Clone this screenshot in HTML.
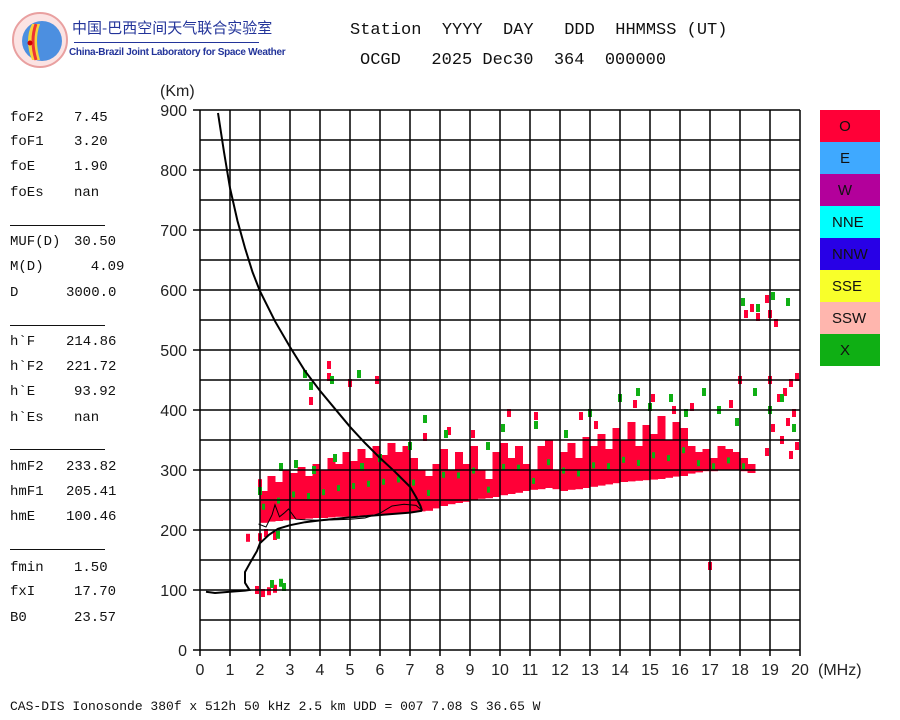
<!DOCTYPE html>
<html><head><meta charset="utf-8">
<style>
html,body{margin:0;padding:0;background:#fff;}
body{width:900px;height:720px;position:relative;overflow:hidden;font-family:"Liberation Mono","Noto Sans CJK SC",monospace;}
.t{position:absolute;white-space:pre;color:#111;}
.pl{position:absolute;left:10px;font-size:14px;font-family:"Liberation Mono",monospace;color:#111;}
.pv{position:absolute;font-size:14px;font-family:"Liberation Mono",monospace;color:#111;}
.hr{position:absolute;left:10px;width:95px;height:1px;background:#111;}
</style></head>
<body>
<div>
<svg style="position:absolute;left:0;top:0" width="270" height="70">
<circle cx="40" cy="40" r="27" fill="#fbe3e3" stroke="#e9a0a0" stroke-width="2"/>
<circle cx="42" cy="41" r="20" fill="#4c8fe0"/>
<path d="M32 24 Q24 40 32 60 L40 60 Q34 40 40 24Z" fill="#f6d23a"/>
<path d="M36 24 Q30 40 36 60" stroke="#e33" stroke-width="3" fill="none"/>
<circle cx="30" cy="43" r="2.5" fill="#c00"/>
</svg>
<div class="t" style="left:72px;top:17px;font-size:15px;color:#23349a;font-family:'Noto Sans CJK SC',sans-serif;">中国-巴西空间天气联合实验室</div>
<div style="position:absolute;left:74px;top:42px;width:185px;height:1px;background:#23349a"></div>
<div class="t" style="left:69px;top:47px;font-size:10px;font-weight:bold;color:#23349a;font-family:'Liberation Sans',sans-serif;letter-spacing:-0.3px">China-Brazil Joint Laboratory for Space Weather</div>
</div>
<div class="t" style="left:350px;top:21px;font-size:17px">Station  YYYY  DAY   DDD  HHMMSS (UT)</div>
<div class="t" style="left:360px;top:51px;font-size:17px">OCGD   2025 Dec30  364  000000</div>
<div id="params"></div>
<div class="t" style="left:10px;top:699px;font-size:13px">CAS-DIS Ionosonde 380f x 512h 50 kHz 2.5 km UDD = 007 7.08 S 36.65 W</div>
<svg id="chart" style="position:absolute;left:0;top:0" width="900" height="720"></svg>
<script>
const params=[["foF2","7.45",119],["foF1","3.20",143],["foE","1.90",168],["foEs","nan",194],["MUF(D)","30.50",243],["M(D)","  4.09",268],["D","3000.0",294],["h`F","214.86",343],["h`F2","221.72",368],["h`E","93.92",393],["h`Es","nan",419],["hmF2","233.82",468],["hmF1","205.41",493],["hmE","100.46",518],["fmin","1.50",569],["fxI","17.70",593],["B0","23.57",619]];
const sepY=[225,325,449,549];
const xTicks=[0,1,2,3,4,5,6,7,8,9,10,11,12,13,14,15,16,17,18,19,20];
const yTicks=[0,100,200,300,400,500,600,700,800,900];
const legendNames=["O","E","W","NNE","NNW","SSE","SSW","X"];
const legendColors=["#ff0037","#3fa9ff","#b3009b","#00ffff","#2800e6","#f8ff2a","#ffb6ae","#0faf14"];
// dense O-mode band
const bandFreq=[2.0,2.25,2.5,2.75,3.0,3.25,3.5,3.75,4.0,4.25,4.5,4.75,5.0,5.25,5.5,5.75,6.0,6.25,6.5,6.75,7.0,7.25,7.5,7.75,8.0,8.25,8.5,8.75,9.0,9.25,9.5,9.75,10.0,10.25,10.5,10.75,11.0,11.25,11.5,11.75,12.0,12.25,12.5,12.75,13.0,13.25,13.5,13.75,14.0,14.25,14.5,14.75,15.0,15.25,15.5,15.75,16.0,16.25,16.5,16.75,17.0,17.25,17.5,17.75,18.0,18.25];
const bandBottom=[212,214,215,216,218,218,219,220,220,221,222,222,223,224,225,226,226,227,228,229,230,231,232,236,240,243,245,247,250,252,253,255,258,260,262,265,267,268,270,268,265,267,268,270,272,274,276,278,280,281,282,283,284,285,287,289,290,294,296,298,298,300,300,300,298,295];
const bandTop=[265,290,280,300,295,305,290,310,300,320,310,330,315,335,320,340,325,345,330,340,320,300,290,310,335,300,330,310,340,300,285,330,345,320,340,310,300,340,350,300,330,345,320,355,340,360,335,370,350,380,340,375,360,390,350,380,370,340,330,335,320,340,335,330,320,310];
// sparse O-mode echoes [freq, km]
const oPoints=[[2.5,190],[1.6,187],[2.0,188],[2.2,195],[1.9,100],[2.1,95],[2.3,98],[2.5,102],[2.0,278],[3.7,415],[4.3,475],[4.3,455],[5.0,445],[5.9,450],[7.5,355],[8.3,365],[9.1,360],[10.3,395],[11.2,390],[12.7,390],[13.2,375],[14.5,410],[15.1,420],[15.8,400],[16.4,405],[17.0,140],[17.7,410],[18.0,450],[18.2,560],[18.4,570],[18.6,555],[18.9,585],[19.0,560],[19.2,545],[19.0,450],[19.3,420],[19.5,430],[19.7,445],[19.9,455],[19.6,380],[19.8,395],[19.1,370],[19.4,350],[19.9,340],[18.9,330],[19.7,325]];
// X-mode echoes [freq, km]
const xPoints=[[2.6,192],[2.4,110],[2.7,112],[2.8,105],[2.0,265],[2.7,305],[3.2,310],[3.8,300],[4.5,320],[5.4,305],[6.0,320],[7.0,340],[7.5,385],[8.2,360],[9.6,340],[10.1,370],[11.2,375],[12.2,360],[13.0,395],[14.0,420],[14.6,430],[15.0,405],[15.7,420],[16.2,395],[16.8,430],[17.3,400],[17.9,380],[18.1,580],[18.6,570],[19.1,590],[19.6,580],[19.0,400],[19.4,420],[19.8,370],[18.5,430],[3.5,460],[3.7,440],[4.4,450],[5.3,460]];
// leading-edge trace (thick)
const traceA=[[0.6,895],[0.8,830],[1.0,770],[1.25,715],[1.5,670],[1.75,630],[2.0,598],[2.5,548],[3.0,505],[3.5,465],[4.0,432],[4.5,402],[5.0,372],[5.5,345],[6.0,320],[6.5,297],[7.0,272],[7.2,255],[7.35,240],[7.4,232]];
const traceB=[[0.2,97],[0.5,95],[1.0,97],[1.5,99],[1.65,100],[1.5,112],[1.5,130],[1.7,148],[1.9,165],[2.0,178],[2.3,192],[2.6,202],[3.0,208],[3.5,213],[4.0,216],[5.0,221],[6.0,225],[7.0,229],[7.4,232]];
const traceC=[[1.95,210],[2.2,205],[2.4,225],[2.5,242],[2.65,222],[2.8,228],[2.95,235],[3.2,218],[3.5,217],[4.0,216],[5.0,218],[5.5,220],[6.0,228],[6.4,240],[6.8,243],[7.2,241],[7.4,233]];

const NS="http://www.w3.org/2000/svg";
const svg=document.getElementById('chart');
const X0=200,X1=800,Y0=650,Y1=110,FMAX=20,HMAX=900;
function xs(f){return X0+(X1-X0)*f/FMAX;}
function ys(h){return Y0-(Y0-Y1)*h/HMAX;}
function mk(tag,attrs){const e=document.createElementNS(NS,tag);for(const k in attrs)e.setAttribute(k,attrs[k]);svg.appendChild(e);return e;}

// params panel
const pp=document.getElementById('params');
params.forEach(p=>{
 const a=document.createElement('div');a.className='pl';a.style.top=(p[2]-9)+'px';a.textContent=p[0];
 
 
 pp.appendChild(a);
 const b=document.createElement('div');b.className='pv';b.style.top=(p[2]-9)+'px';b.style.left=(p[1].startsWith(' ')?74:(p[1].length>5?66:74))+'px';b.style.whiteSpace='pre';b.textContent=p[1];
 
 
 pp.appendChild(b);
});
sepY.forEach(y=>{const d=document.createElement('div');d.className='hr';d.style.top=y+'px';
 
 
 pp.appendChild(d);});

// echo band
const colW=(X1-X0)/FMAX*0.25;
bandFreq.forEach((f,i)=>{
 const r=mk('rect',{x:xs(f),y:ys(bandTop[i]),width:colW+0.5,height:ys(bandBottom[i])-ys(bandTop[i]),fill:'#ff0037'});
 
 
});
// green speckles inside band
bandFreq.forEach((f,i)=>{
 if(i%2===0){const h=(bandTop[i]*0.6+bandBottom[i]*0.4);
 const r=mk('rect',{x:xs(f)+2,y:ys(h),width:3,height:6,fill:'#0faf14'});
 
 }
});
oPoints.forEach(p=>{const r=mk('rect',{x:xs(p[0])-2,y:ys(p[1])-4,width:4,height:8,fill:'#ff0037'});
 
 });
xPoints.forEach(p=>{const r=mk('rect',{x:xs(p[0])-2,y:ys(p[1])-4,width:4,height:8,fill:'#0faf14'});
 
 });

// grid
for(let f=0;f<=FMAX;f++){const l=mk('line',{x1:xs(f),y1:Y1,x2:xs(f),y2:Y0+6,stroke:'#000','stroke-width':1.5});
 
 }
for(let h=0;h<=HMAX;h+=50){const l=mk('line',{x1:(h%100===0?X0-7:X0),y1:ys(h),x2:X1,y2:ys(h),stroke:'#000','stroke-width':1.5});
 
 }

// traces
function poly(arr,w,name){const e=mk('polyline',{points:arr.map(p=>xs(p[0])+','+ys(p[1])).join(' '),fill:'none',stroke:'#000','stroke-width':w});
 
 }
poly(traceA,2,'virtual-height-trace');
poly(traceB,2,'true-height-profile');
poly(traceC,1,'fitted-trace');

// tick labels
xTicks.forEach(t=>{const e=mk('text',{x:xs(t),y:675,'text-anchor':'middle','font-size':16,'font-family':'Liberation Sans, sans-serif',fill:'#222'});e.textContent=t;
 
 });
yTicks.forEach(t=>{const e=mk('text',{x:187,y:ys(t)+6,'text-anchor':'end','font-size':16,'font-family':'Liberation Sans, sans-serif',fill:'#222'});e.textContent=t;
 
 });
let e=mk('text',{x:160,y:96,'font-size':16,'font-family':'Liberation Sans, sans-serif',fill:'#222'});e.textContent='(Km)';


e=mk('text',{x:818,y:675,'font-size':16,'font-family':'Liberation Sans, sans-serif',fill:'#222'});e.textContent='(MHz)';



// legend
legendNames.forEach((n,i)=>{
 const r=mk('rect',{x:820,y:110+i*32,width:60,height:32,fill:legendColors[i]});
 
 
 const t=mk('text',{x:845+(n.length>1?-4:0),y:131+i*32,'text-anchor':n.length>1?'start':'middle','font-size':15,'font-family':'Liberation Sans, sans-serif',fill:'#111'});
 if(n.length>1)t.setAttribute('x',832);
 t.textContent=n;
 
 
});
</script>
</body></html>
